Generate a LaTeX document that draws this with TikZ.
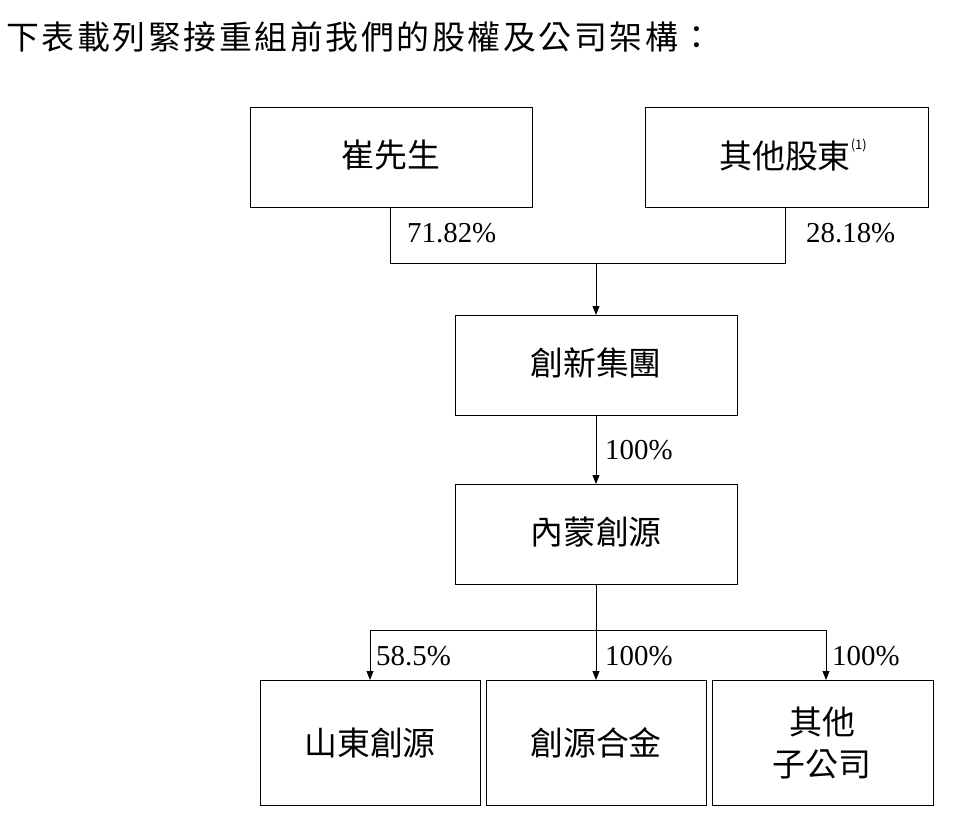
\documentclass[tikz,border=0pt]{standalone}
\usepackage{fontspec}
\setmainfont{Liberation Serif}
\newfontfamily\cjk{Noto Sans CJK TC}
\newfontfamily\cjkwide[LetterSpace=8]{Noto Sans CJK TC}
\usetikzlibrary{arrows.meta}
\begin{document}
\begin{tikzpicture}[x=1bp,y=-1bp,
  box/.style={draw,line width=1bp,inner sep=0pt},
  lbl/.style={font=\cjk\fontsize{33}{42}\selectfont},
  pct/.style={font=\fontsize{29}{32}\selectfont,anchor=west,inner sep=0pt},
  ln/.style={line width=1bp},
  arr/.style={ln,-{Triangle[length=9bp,width=7bp]}}]
\useasboundingbox (0,0) rectangle (960,816);
\node[anchor=west,font=\cjkwide\fontsize{33}{38}\selectfont,inner sep=0pt] (title) at (6,37) {下表載列緊接重組前我們的股權及公司架構：};
\draw[box] (250,107) rectangle (532,207); \node[lbl] (a) at (391,155) {崔先生};
\draw[box] (645,107) rectangle (928,207); \node[lbl] (b) at (793,155) {其他股東\raisebox{1.1ex}{\fontsize{13}{13}\selectfont(1)}};
\draw[box] (455,315) rectangle (737,415); \node[lbl] (c) at (596,363) {創新集團};
\draw[box] (455,484) rectangle (737,584); \node[lbl] (d) at (596,532) {內蒙創源};
\draw[box] (260,680) rectangle (480,805); \node[lbl] (e) at (370,743) {山東創源};
\draw[box] (486,680) rectangle (706,805); \node[lbl] (f) at (596,743) {創源合金};
\draw[box] (712,680) rectangle (933,805); \node[lbl,align=center] (g) at (822,743) {其他\\子公司};
\coordinate (j) at (596,263);
\draw[ln] (390,207) -- (390,263) -- (785,263) -- (785,207);
\draw[arr] (j) -- (596,315);
\draw[arr] (596,415) -- (596,484);
\draw[ln] (596,584) -- (596,630);
\draw[ln] (370,630) -- (826,630);
\draw[arr] (370,630) -- (370,680);
\draw[arr] (596,630) -- (596,680);
\draw[arr] (826,630) -- (826,680);
\node[pct] (p1) at (407,233) {71.82\%};
\node[pct] (p2) at (806,233) {28.18\%};
\node[pct] (p3) at (605,450) {100\%};
\node[pct] (p4) at (376,656) {58.5\%};
\node[pct] (p5) at (605,656) {100\%};
\node[pct] (p6) at (832,656) {100\%};
\end{tikzpicture}
\end{document}
